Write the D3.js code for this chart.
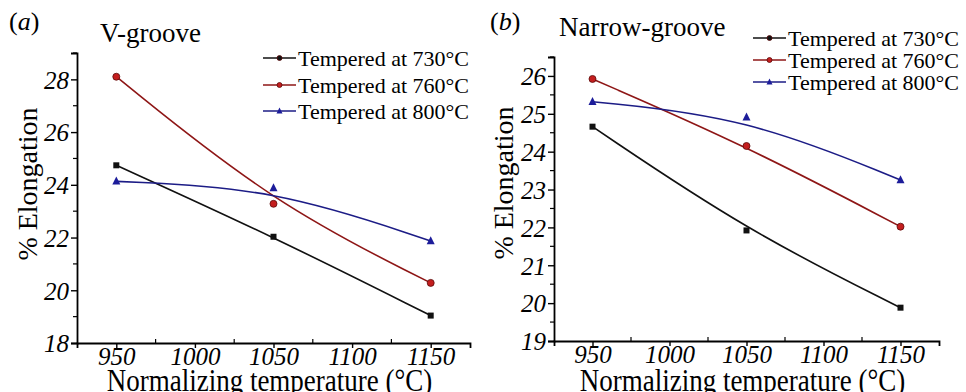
<!DOCTYPE html>
<html>
<head>
<meta charset="utf-8">
<script src="https://cdn.jsdelivr.net/npm/d3@7"></script>
<style>
  body { margin: 0; background: #fff; }
  svg { display: block; font-family: "Liberation Serif", "DejaVu Serif", serif; }
</style>
</head>
<body>
<svg id="chart" width="966" height="392"></svg>
<script>
// data
const temps = [950, 1050, 1150];
const seriesNames = ["Tempered at 730°C", "Tempered at 760°C", "Tempered at 800°C"];
const vGroove730 = [24.74, 22.03, 19.04];
const vGroove760 = [28.1, 23.28, 20.28];
const vGroove800 = [24.13, 23.88, 21.87];
const narrow730 = [24.66, 21.92, 19.88];
const narrow760 = [25.92, 24.15, 22.02];
const narrow800 = [25.32, 24.91, 23.25];
const xTicks = [950, 1000, 1050, 1100, 1150];
const yTicksA = [18, 20, 22, 24, 26, 28];
const yTicksB = [19, 20, 21, 22, 23, 24, 25, 26];

const lineColors = ["#111", "#8e1616", "#1c1c86"];
const fillColors = ["#111", "#c41e1e", "#1c1c9a"];
const shapes = ["square", "circle", "triangle"];
const serif = "'Liberation Serif', 'DejaVu Serif', serif";

const svg = d3.select("#chart");

// panel layouts (pixel boxes)
const panels = [
  {
    tag: "a", title: "V-groove", data: [vGroove730, vGroove760, vGroove800],
    x0: 77, x1: 470, yTop: 53, yBot: 343, yDomain: [18, 29],
    yTicks: yTicksA, yMinorStep: 1,
    tagX: 9, titleX: 100, titleY: 42, ylabX: 37, ylabY: 184,
    legX: 263, legY: [58, 85, 111]
  },
  {
    tag: "b", title: "Narrow-groove", data: [narrow730, narrow760, narrow800],
    x0: 554, x1: 939, yTop: 57, yBot: 341, yDomain: [19, 26.5],
    yTicks: yTicksB, yMinorStep: 0.5,
    tagX: 490, titleX: 559, titleY: 36, ylabX: 513, ylabY: 183,
    legX: 753, legY: [38, 60, 82]
  }
];

function marker(g, shape, cx, cy, color, size) {
  if (shape === "square") {
    g.append("rect").attr("x", cx - size / 2).attr("y", cy - size / 2)
      .attr("width", size).attr("height", size).attr("fill", color);
  } else if (shape === "circle") {
    g.append("circle").attr("cx", cx).attr("cy", cy).attr("r", size / 2 + 0.5)
      .attr("fill", color).attr("stroke", "#5a0a0a").attr("stroke-width", 0.8);
  } else {
    const s = size + 2;
    g.append("path")
      .attr("d", `M${cx},${cy - s * 0.6}L${cx + s / 2},${cy + s * 0.4}L${cx - s / 2},${cy + s * 0.4}Z`)
      .attr("fill", color);
  }
}

panels.forEach(p => {
  const g = svg.append("g");

  const x = d3.scaleLinear().domain([925, 1175]).range([p.x0, p.x1]);
  const y = d3.scaleLinear().domain(p.yDomain).range([p.yBot, p.yTop]);

  // axes
  const xAxis = d3.axisBottom(x).tickValues(xTicks).tickSize(5).tickFormat(d3.format("d"));
  const xg = g.append("g").attr("transform", `translate(0,${p.yBot})`).call(xAxis);
  const yAxis = d3.axisLeft(y).tickValues(p.yTicks).tickSize(6).tickFormat(d3.format("d"));
  const yg = g.append("g").attr("transform", `translate(${p.x0},0)`).call(yAxis);

  [xg, yg].forEach(a => {
    a.attr("font-family", serif).attr("font-size", null);
    a.select(".domain").attr("stroke", "#000").attr("stroke-width", 1.8);
    a.selectAll(".tick line").attr("stroke", "#000").attr("stroke-width", 1.4);
    a.selectAll(".tick text").attr("fill", "#000")
      .style("font-family", serif)
      .style("font-size", "25px").style("font-style", "italic");
  });
  xg.selectAll(".tick text").attr("dy", "0.56em");
  yg.selectAll(".tick text").attr("dy", "0.35em").attr("x", -8);

  // minor ticks
  const xMinor = d3.range(975, 1175, 50);
  g.append("g").selectAll("line").data(xMinor).join("line")
    .attr("x1", d => x(d)).attr("x2", d => x(d))
    .attr("y1", p.yBot).attr("y2", p.yBot - 4)
    .attr("stroke", "#000").attr("stroke-width", 1.2);
  const yMinor = d3.range(p.yDomain[0] + p.yMinorStep, p.yDomain[1] + 0.01, p.yMinorStep)
    .filter(v => !p.yTicks.includes(v));
  g.append("g").selectAll("line").data(yMinor).join("line")
    .attr("x1", p.x0).attr("x2", p.x0 - 4)
    .attr("y1", d => y(d)).attr("y2", d => y(d))
    .attr("stroke", "#000").attr("stroke-width", 1.2);

  // fitted curves + points
  const line = d3.line()
    .x((d, i) => x(temps[i]))
    .y(d => y(d))
    .curve(d3.curveBasis);

  p.data.forEach((vals, si) => {
    g.append("path").datum(vals)
      .attr("d", line)
      .attr("fill", "none")
      .attr("stroke", lineColors[si])
      .attr("stroke-width", 1.6);
    const mg = g.append("g");
    vals.forEach((v, i) => marker(mg, shapes[si], x(temps[i]), y(v), fillColors[si], 6));
  });

  // legend
  seriesNames.forEach((name, si) => {
    const ly = p.legY[si];
    const lg = g.append("g");
    lg.append("line").attr("x1", p.legX).attr("x2", p.legX + 33)
      .attr("y1", ly).attr("y2", ly)
      .attr("stroke", lineColors[si]).attr("stroke-width", 1.6);
    marker(lg, si === 0 ? "circle" : shapes[si], p.legX + 16.5, ly, fillColors[si], 4);
    lg.append("text").attr("x", p.legX + 35).attr("y", ly + 8)
      .style("font-size", "22px").attr("fill", "#000").text(name);
  });

  // panel tag and title
  const tag = g.append("text").attr("x", p.tagX).attr("y", 30)
    .style("font-size", "26px").attr("fill", "#000");
  tag.append("tspan").text("(");
  tag.append("tspan").style("font-style", "italic").text(p.tag);
  tag.append("tspan").text(")");
  g.append("text").attr("x", p.titleX).attr("y", p.titleY)
    .style("font-size", "27px").attr("fill", "#000").text(p.title);

  // axis labels
  g.append("text")
    .attr("transform", `translate(${p.ylabX},${p.ylabY}) rotate(-90)`)
    .attr("text-anchor", "middle")
    .style("font-size", "28px").attr("fill", "#000")
    .text("% Elongation");
  g.append("text")
    .attr("transform", `translate(${(p.x0 + p.x1) / 2 - 4},391) scale(1,1.2)`)
    .attr("text-anchor", "middle")
    .style("font-size", "27px").attr("fill", "#000")
    .text("Normalizing temperature (°C)");
});
</script>
</body>
</html>
